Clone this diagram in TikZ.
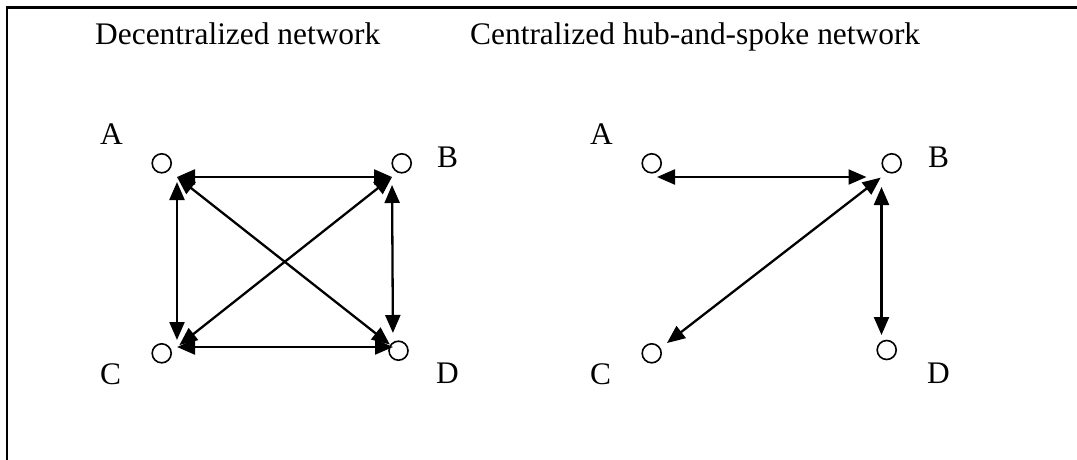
\documentclass[tikz,border=0pt]{standalone}
\usepackage{fontspec}
\setmainfont{Liberation Serif}
\usetikzlibrary{arrows.meta}
\begin{document}
\begin{tikzpicture}[x=1pt,y=-1pt,
  lbl/.style={anchor=base west,inner sep=0pt,font=\fontsize{31.4}{38}\selectfont},
  dot/.style={circle,draw,line width=1.6pt,minimum size=19pt,inner sep=0pt},
  link/.style={line width=2.3pt,{Triangle[length=18pt,width=15pt]}-{Triangle[length=18pt,width=15pt]}},
  framebar/.style={fill=black,draw=none}]
\useasboundingbox (0,0) rectangle (1077,460);
\coordinate (fl1) at (5.7,6.2);
\coordinate (fl2) at (8.3,460);
\coordinate (ft1) at (5.7,6.2);
\coordinate (ft2) at (1077,8.8);
\fill[framebar] (fl1) rectangle (fl2);
\fill[framebar] (ft1) rectangle (ft2);
% titles
\node[lbl] (t1) at (95,45) {Decentralized network};
\node[lbl] (t2) at (470,45) {Centralized hub-and-spoke network};
% left diagram
\node[dot] (A1) at (161.7,163.3) {};
\node[dot] (B1) at (401.7,163.3) {};
\node[dot] (C1) at (161.7,353.3) {};
\node[dot] (D1) at (398.5,350.7) {};
\node[lbl] (lA1) at (100,144) {A};
\node[lbl] (lB1) at (437,167) {B};
\node[lbl] (lC1) at (100,384) {C};
\node[lbl] (lD1) at (436,383) {D};
\coordinate (a1) at (177,177);
\coordinate (b1) at (392,177);
\coordinate (c1) at (177,347);
\coordinate (d1) at (393,347);
\draw[link] (a1) -- (b1);
\draw[link] (c1) -- (d1);
\draw[link,shorten <=5pt,shorten >=7pt] (a1) -- (c1);
\draw[link,shorten <=8pt,shorten >=14pt] (b1) -- (d1);
\draw[link,shorten >=4pt] (a1) -- (d1);
\draw[link,shorten >=3pt] (b1) -- (c1);
% right diagram
\node[dot] (A2) at (651.7,163.3) {};
\node[dot] (B2) at (891.7,163.3) {};
\node[dot] (C2) at (651.7,353.3) {};
\node[dot] (D2) at (886.7,350) {};
\node[lbl] (lA2) at (590,144) {A};
\node[lbl] (lB2) at (928,167) {B};
\node[lbl] (lC2) at (590,384) {C};
\node[lbl] (lD2) at (927,383) {D};
\coordinate (a2) at (657,177);
\coordinate (b2) at (881.5,177);
\coordinate (c2) at (667,343);
\coordinate (d2) at (881.5,335);
\draw[link,shorten >=15pt] (a2) -- (b2);
\draw[link,shorten <=1pt] (b2) -- (c2);
\draw[link,shorten <=10pt] (b2) -- (d2);
\end{tikzpicture}
\end{document}
